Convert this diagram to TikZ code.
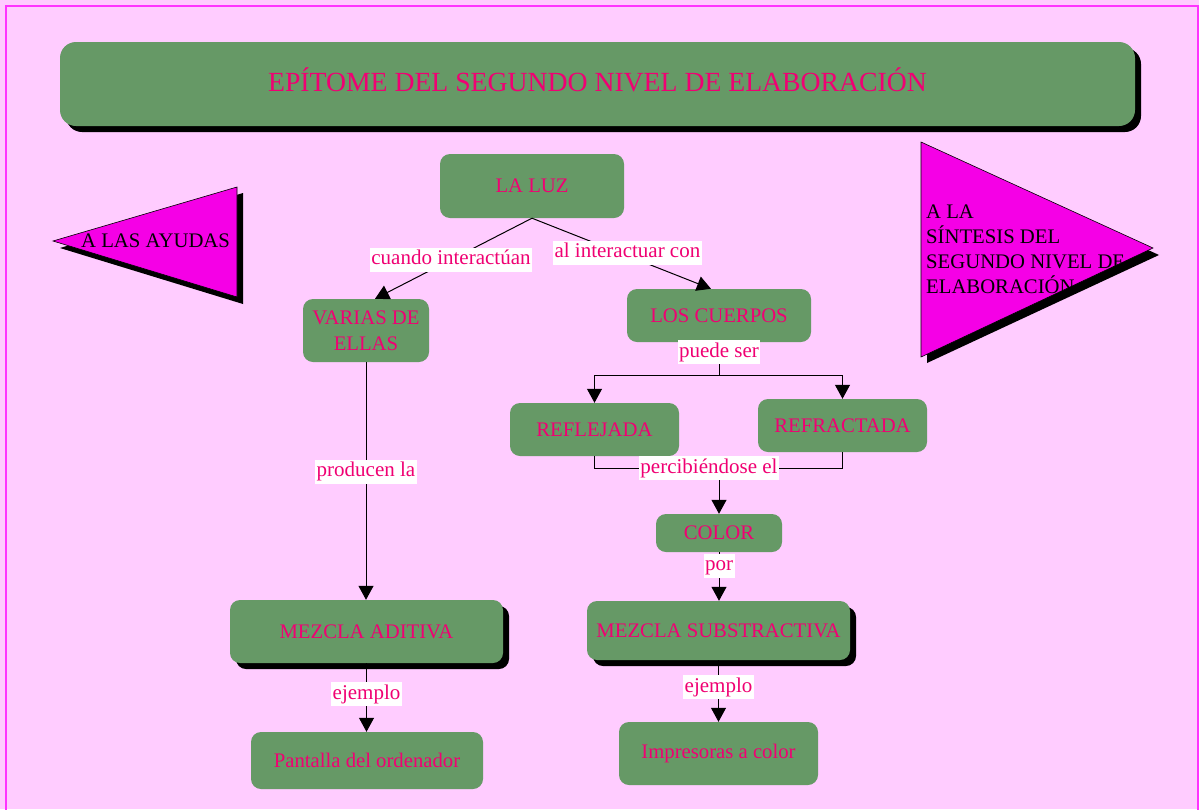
\documentclass[tikz,border=0pt]{standalone}
\usepackage{fontspec}
\setmainfont{Liberation Serif}
\usetikzlibrary{arrows.meta,shadows,calc}

\definecolor{pagebg}{RGB}{255,204,255}
\definecolor{pageedge}{RGB}{255,51,255}
\definecolor{boxgreen}{RGB}{102,153,102}
\definecolor{inkpink}{RGB}{240,0,115}
\definecolor{flagfill}{RGB}{245,0,230}

\begin{document}
\begin{tikzpicture}[x=1pt,y=-1pt,
  concept/.style={fill=boxgreen, rounded corners=10pt, inner sep=0pt,
    text=inkpink, font=\fontsize{20.7}{26}\selectfont, align=center},
  shadowed/.style={drop shadow={shadow xshift=6pt, shadow yshift=-6pt,
    opacity=1, fill=black}},
  link/.style={line width=1pt, draw=black},
  arrow/.style={link, -{Triangle[width=15pt,length=14pt]}},
  linklabel/.style={fill=white, text=inkpink, inner xsep=1.5pt, inner ysep=2pt,
    text height=15pt, text depth=5pt, font=\fontsize{21}{24}\selectfont},
  flagtext/.style={text=black, font=\fontsize{20.7}{25}\selectfont,
    inner sep=0pt, align=left},
]

% page
\fill[pagebg] (0,0) rectangle (1199,809);
\useasboundingbox (0,0) rectangle (1199,809);
\draw[pageedge, line width=2pt] (5.5,5.5) rectangle (1197.5,840);

% title banner
\node[concept, shadowed, rounded corners=16pt, minimum width=1075pt,
  minimum height=84pt, text height=18pt, text depth=4pt,
  font=\fontsize{27.7}{32}\selectfont] (title) at (597.5,84)
  {EPÍTOME DEL SEGUNDO NIVEL DE ELABORACIÓN};

% navigation flags
\fill[black] (60,248) -- (243,193) -- (243,304) -- cycle;
\draw[fill=flagfill, line width=0.6pt] (53,241) -- (237,187) -- (237,297) -- cycle;
\node[flagtext, anchor=west] (ayudas) at (81,241) {A LAS AYUDAS};

\fill[black] (927,149) -- (1159,255) -- (927,363) -- cycle;
\draw[fill=flagfill, line width=0.6pt] (921,142) -- (1153,248) -- (921,357) -- cycle;
\node[flagtext, anchor=west] (sintesis) at (926,249.5)
  {A LA\\SÍNTESIS DEL\\SEGUNDO NIVEL DE\\ELABORACIÓN};

% concepts
\node[concept, minimum width=184pt, minimum height=64pt] (luz) at (532,186) {LA LUZ};
\node[concept, minimum width=126pt, minimum height=63pt] (varias) at (366,330.5) {VARIAS DE\\ELLAS};
\node[concept, minimum width=184pt, minimum height=53pt] (cuerpos) at (719,315.5) {LOS CUERPOS};
\node[concept, minimum width=169pt, minimum height=53pt] (refl) at (594.5,429.5) {REFLEJADA};
\node[concept, minimum width=169pt, minimum height=53pt] (refr) at (842.5,425.5) {REFRACTADA};
\node[concept, minimum width=126pt, minimum height=38pt] (color) at (719,533) {COLOR};
\node[concept, shadowed, minimum width=273pt, minimum height=63pt] (aditiva) at (366.5,631.5) {MEZCLA ADITIVA};
\node[concept, shadowed, minimum width=263pt, minimum height=59pt] (subs) at (718.5,630.5) {MEZCLA SUBSTRACTIVA};
\node[concept, minimum width=232pt, minimum height=57pt] (pantalla) at (367,760.5) {Pantalla del ordenador};
\node[concept, minimum width=199pt, minimum height=63pt] (impresoras) at (718.5,753.5) {Impresoras a color};

% links
\draw[arrow] (luz.south) -- ([xshift=9pt]varias.north)
  node[linklabel, pos=0.516] (l1) {cuando interactúan\ };
\draw[arrow] (luz.south) -- ([xshift=-8pt]cuerpos.north)
  node[linklabel, pos=0.533, yshift=3pt] (l2) {al interactuar con\ };

\draw[arrow] (varias.south) -- (varias.south |- aditiva.north)
  node[linklabel, pos=0.462] (l3) {producen la\ };

\coordinate (split) at (719,375);
\draw[link] (cuerpos.south) -- (split)
  node[linklabel, pos=0.3] (l4) {puede ser\ };
\draw[arrow] (split) -| (refl.north);
\draw[arrow] (split) -| (refr.north);

\coordinate (join) at (719,468);
\draw[link] (refl.south) |- (join);
\draw[link] (refr.south) |- (join);
\draw[arrow] (join) -- (color.north);
\node[linklabel] (l5) at (709,468) {percibiéndose el\ };

\draw[arrow] (color.south) -- (color.south |- subs.north)
  node[linklabel, pos=0.28] (l6) {por};

\draw[arrow] (aditiva.south) -- (aditiva.south |- pantalla.north)
  node[linklabel, pos=0.45] (l7) {ejemplo\ };
\draw[arrow] (subs.south) -- (subs.south |- impresoras.north)
  node[linklabel, pos=0.44] (l8) {ejemplo\ };

\end{tikzpicture}
\end{document}
